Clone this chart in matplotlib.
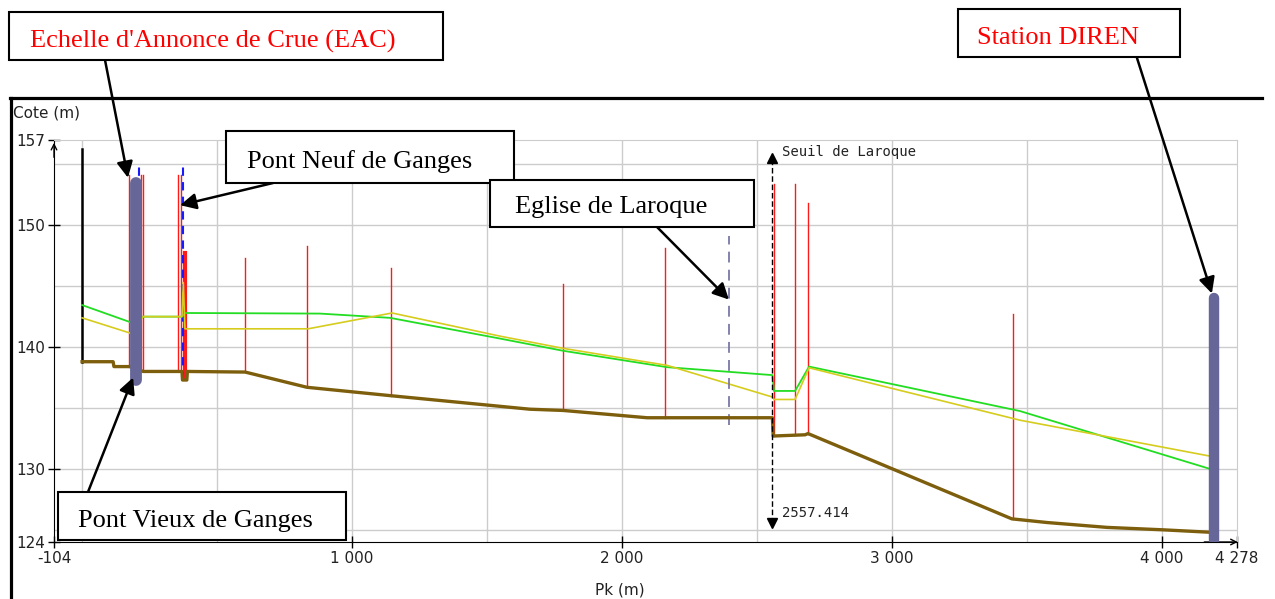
import matplotlib
matplotlib.use('Agg')
import matplotlib.pyplot as plt
from matplotlib.patches import Rectangle
from matplotlib.lines import Line2D

# Profil en long - Pk (m) / Cote (m)
bed_x = [0, 115, 118, 178, 226, 370, 372, 388, 390, 604, 833, 1148, 1659, 1781, 2093,
         2557, 2560, 2678, 2689, 3444, 3574, 3796, 4004, 4178]
bed_z = [138.8, 138.8, 138.4, 138.4, 138.0, 138.0, 137.3, 137.3, 138.0, 137.95, 136.7,
         136.0, 134.9, 134.8, 134.2, 134.2, 132.7, 132.8, 132.9, 125.9, 125.6, 125.2, 125.0, 124.8]

green_x = [0, 178, 226, 370, 381, 881, 993, 1141, 1548, 1781, 2167, 2557, 2563, 2641, 2693, 3474, 4178]
green_z = [143.45, 142.05, 142.5, 142.5, 142.8, 142.75, 142.6, 142.4, 140.7, 139.7, 138.35,
           137.7, 136.4, 136.4, 138.4, 134.75, 130.0]

yellow_x = [0, 178, 226, 370, 375, 381, 837, 1148, 1548, 1781, 2167, 2557, 2563, 2641, 2693, 3474, 4178]
yellow_z = [142.4, 141.15, 142.5, 142.5, 145.3, 141.5, 141.5, 142.8, 140.9, 139.9, 138.5,
            135.9, 135.7, 135.7, 138.3, 134.0, 131.05]

# profils en travers (traits rouges)
prof_x = [174, 218, 226, 356, 367, 604, 833, 1144, 1781, 2159, 2563, 2641, 2689, 3448]
prof_bot = [138.4, 138.0, 138.0, 138.0, 138.0, 137.95, 136.7, 136.0, 134.8, 134.2, 132.7, 132.8, 132.9, 125.9]
prof_top = [154.1, 154.1, 154.1, 154.1, 154.1, 147.3, 148.3, 146.5, 145.2, 148.1, 153.4, 153.4, 151.8, 142.7]

weir_x, weir_bot, weir_top = 381, 137.4, 147.7      # seuil Pont Neuf
bridge_x = [211, 374]                                # ponts (bleu)
bridge_bot = [137.3, 137.3]
bridge_top = [155.2, 155.1]
upstream_x, upstream_bot, upstream_top = 0, 138.8, 156.3

eac_x, eac_bot, eac_top = 200, 137.3, 153.45
diren_x, diren_bot, diren_top = 4193, 124.2, 144.0
eglise_x, eglise_bot, eglise_top = 2396, 133.6, 149.1
seuil_x, seuil_bot, seuil_top = 2557.414, 125.6, 155.5

xticks = [-104, 1000, 2000, 3000, 4000, 4278]
xlabels = ['-104', '1 000', '2 000', '3 000', '4 000', '4 278']
yticks = [124, 130, 140, 150, 157]
ylabels = ['124', '130', '140', '150', '157']
grid_x = [0, 500, 1000, 1500, 2000, 2500, 3000, 3500, 4000]
grid_y = [125, 130, 135, 140, 145, 150, 155]

W, H = 1275, 599


def fp(x, y):
    # pixel image (origine en haut a gauche) -> fraction de figure
    return (x / W, 1 - y / H)


fig = plt.figure(figsize=(12.75, 5.99), dpi=100)
ax = fig.add_axes([54 / W, 1 - 542 / H, (1237 - 54) / W, (542 - 140) / H])
ax.set_xlim(-104, 4278)
ax.set_ylim(124, 157)

# grille (les graduations mineures qui tombent sur une majeure sont supprimees,
# donc on trace la grille a la main)
for gx in grid_x:
    ax.axvline(gx, color='#cccccc', lw=1, zorder=0.5)
for gy in grid_y:
    ax.axhline(gy, color='#cccccc', lw=1, zorder=0.5)
ax.set_xticks(xticks, labels=xlabels)
ax.set_yticks(yticks, labels=ylabels)
ax.tick_params(which='major', direction='inout', length=9, width=1, labelsize=11,
               labelcolor='#222222', pad=2)
for s in ['top', 'right']:
    ax.spines[s].set_color('#cccccc')
for s in ['left', 'bottom']:
    ax.spines[s].set_color('black')

# fleches des axes
ax.annotate('', xy=(0, 1), xytext=(0, 0.95), xycoords='axes fraction',
            arrowprops=dict(arrowstyle='->', lw=1, color='black'), annotation_clip=False)
ax.annotate('', xy=(1.003, 0), xytext=(0.97, 0), xycoords='axes fraction',
            arrowprops=dict(arrowstyle='->', lw=1, color='black'), annotation_clip=False)

# traits
for x, b, t in zip(prof_x, prof_bot, prof_top):
    ax.plot([x, x], [b, t], color='#ff1a1a', lw=1, zorder=2)
ax.plot([weir_x, weir_x], [weir_bot, weir_top], color='#ff1a1a', lw=3, zorder=2)
for x, b, t in zip(bridge_x, bridge_bot, bridge_top):
    ax.plot([x, x], [b, t], color='#1a1aff', lw=1.5, dashes=(4, 3), zorder=3)
ax.plot([upstream_x, upstream_x], [upstream_bot, upstream_top], color='black', lw=1.8, zorder=3)

ax.plot(green_x, green_z, color='#22dd22', lw=1.3, zorder=3)
ax.plot(yellow_x, yellow_z, color='#d6cc1e', lw=1.2, zorder=3)
ax.plot(bed_x, bed_z, color='#7d5e0c', lw=2.4, zorder=4)

ax.plot([eglise_x, eglise_x], [eglise_bot, eglise_top], color='#7878a8', lw=1.3,
        dashes=(6, 4), zorder=3)

ax.plot([seuil_x, seuil_x], [seuil_bot, seuil_top], color='black', lw=1, dashes=(4, 2), zorder=5)
ax.plot([seuil_x], [seuil_top], marker='^', color='black', ms=7, zorder=5)
ax.plot([seuil_x], [seuil_bot], marker='v', color='black', ms=7, zorder=5)
ax.text(seuil_x + 35, 156.0, 'Seuil de Laroque', family='DejaVu Sans Mono', fontsize=10,
        va='center', ha='left', color='#222222')
ax.text(seuil_x + 35, 126.4, '%.3f' % seuil_x, family='DejaVu Sans Mono', fontsize=10,
        va='center', ha='left', color='#222222')

ax.plot([eac_x, eac_x], [eac_bot, eac_top], color='#666699', lw=8.5,
        solid_capstyle='round', zorder=6)
ax.plot([diren_x, diren_x], [diren_bot, diren_top], color='#666699', lw=7.5,
        solid_capstyle='round', zorder=6)

# titres d'axes
fig.text(*fp(13, 113), 'Cote (m)', fontsize=11, va='center', ha='left', color='#222222')
fig.text(*fp(620, 590), 'Pk (m)', fontsize=11, va='center', ha='center', color='#222222')

# cadre
fig.add_artist(Line2D([10 / W, 1262 / W], [1 - 98 / H, 1 - 98 / H], color='black', lw=2.3))
fig.add_artist(Line2D([11 / W, 11 / W], [1 - 98 / H, 0], color='black', lw=2.3))

# boites d'annotation : (x0, y0, x1, y1, texte, x texte, ligne de base, couleur)
boxes = [
    (9, 12, 443, 60, "Echelle d'Annonce de Crue (EAC)", 30, 48, 'red'),
    (226, 131, 514, 183, 'Pont Neuf de Ganges', 247, 168, 'black'),
    (490, 180, 754, 227, 'Eglise de Laroque', 515, 213, 'black'),
    (958, 9, 1180, 57, 'Station DIREN', 977, 44, 'red'),
    (58, 492, 346, 540, 'Pont Vieux de Ganges', 78, 527, 'black'),
]
for x0, y0, x1, y1, txt, tx, ty, col in boxes:
    fig.add_artist(Rectangle(fp(x0, y1), (x1 - x0) / W, (y1 - y0) / H,
                             transform=fig.transFigure, facecolor='white',
                             edgecolor='black', lw=1.5, zorder=10))
    fig.text(*fp(tx, ty), txt, family='Liberation Serif', fontsize=19, color=col,
             va='baseline', ha='left', zorder=11)

# fleches : (depart en pixels, pointe en donnees)
arrows = [
    ((105, 60), (170, 153.9)),
    ((273, 183), (363, 151.65)),
    ((657, 227), (2396, 143.9)),
    ((1137, 58), (4185, 144.4)),
    ((88, 492), (189, 137.5)),
]
for (sx, sy), tip in arrows:
    ax.annotate('', xy=tip, xycoords='data', xytext=fp(sx, sy), textcoords='figure fraction',
                arrowprops=dict(arrowstyle='-|>', color='black', lw=1.8, mutation_scale=24,
                                shrinkA=0, shrinkB=0),
                annotation_clip=False, zorder=12)

fig.savefig('out.png', dpi=100)
